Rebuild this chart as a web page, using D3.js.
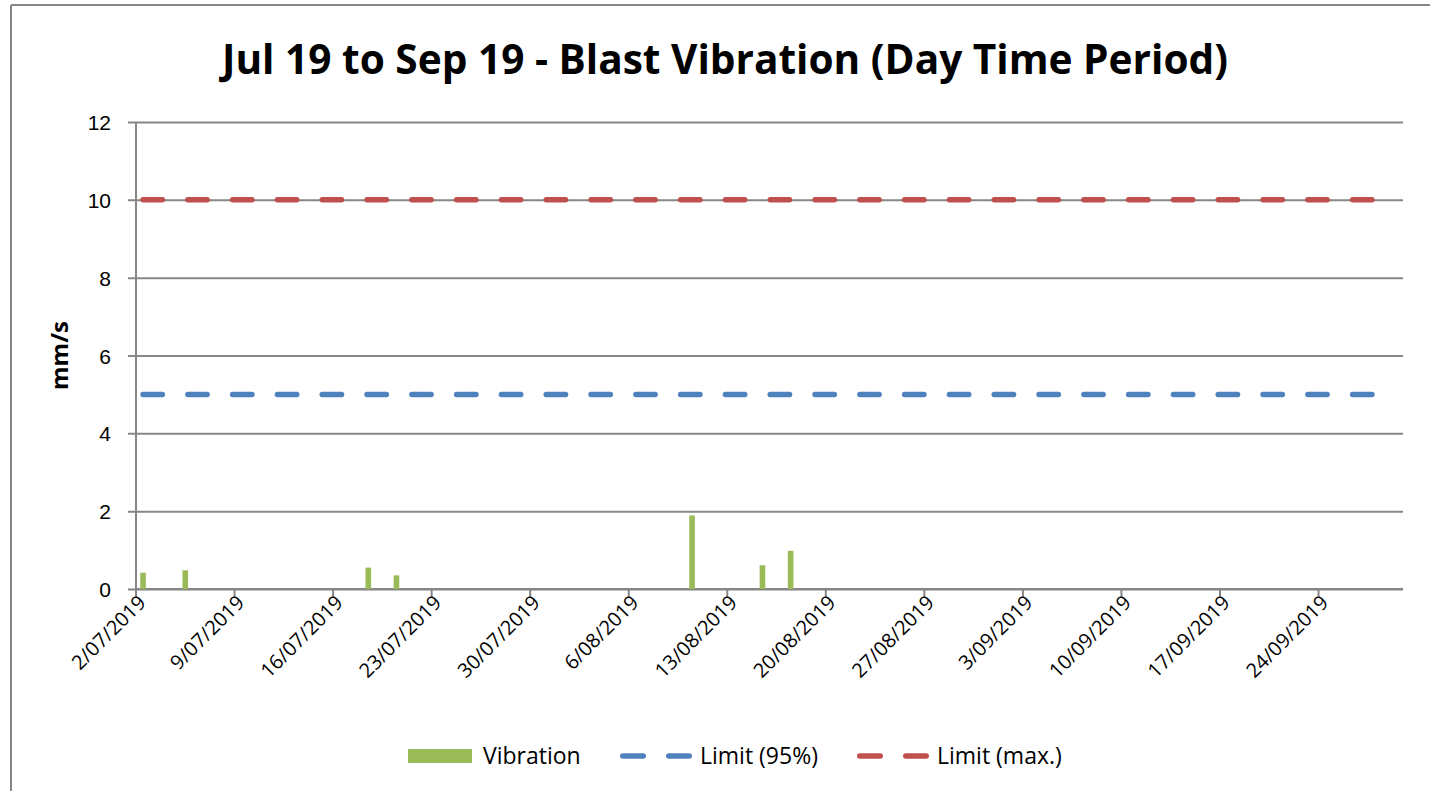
<!DOCTYPE html>
<html>
<head>
<meta charset="utf-8">
<script src="https://cdn.jsdelivr.net/npm/d3@7"></script>
<style>
  body { margin: 0; background: #fff; }
  svg { display: block; font-family: "Open Sans", "Noto Sans", sans-serif; }
</style>
</head>
<body>
<svg id="chart" width="1430" height="791"></svg>
<script>
// data
const firstDay = "2019-07-02";
const lastDay = "2019-09-29";
const blastDates = ["2019-07-02", "2019-07-05", "2019-07-18", "2019-07-20", "2019-08-10", "2019-08-15", "2019-08-17"];
const blastValues = [0.42, 0.48, 0.55, 0.35, 1.89, 0.61, 0.98];
const limit95 = 5;
const limitMax = 10;
const yTicks = [0, 2, 4, 6, 8, 10, 12];
const legendLabels = ["Vibration", "Limit (95%)", "Limit (max.)"];

const svg = d3.select("#chart");
const parse = d3.timeParse("%Y-%m-%d");
const fmt = d3.timeFormat("%-d/%m/%Y");

// daily category axis
const days = d3.timeDay.range(parse(firstDay), d3.timeDay.offset(parse(lastDay), 1));
const dayKeys = days.map(d => fmt(d));

const plot = { left: 136, right: 1403, top: 122, bottom: 589 };

const x = d3.scaleBand()
    .domain(dayKeys)
    .range([plot.left, plot.right]);

const y = d3.scaleLinear()
    .domain([0, 12])
    .range([plot.bottom, plot.top]);

const gridColor = "#868686";
const green = "#9BBB59", blue = "#4F81BD", red = "#C0504D";

//outer chart border (only top and left visible)
svg.append("line").attr("x1", 11).attr("x2", 1430).attr("y1", 5).attr("y2", 5)
    .attr("stroke", gridColor).attr("stroke-width", 2);
svg.append("line").attr("x1", 11).attr("x2", 11).attr("y1", 5).attr("y2", 791)
    .attr("stroke", gridColor).attr("stroke-width", 2);

//title
svg.append("text")
    .attr("x", 725)
    .attr("y", 74)
    .attr("text-anchor", "middle")
    .attr("textLength", 1006)
    .attr("lengthAdjust", "spacingAndGlyphs")
    .style("font-size", "41px")
    .style("font-weight", "bold")
    .text("Jul 19 to Sep 19 - Blast Vibration (Day Time Period)");

//gridlines + y axis
const yAxis = d3.axisLeft(y)
    .tickValues(yTicks)
    .tickSize(plot.right - plot.left + 8)
    .tickFormat(d3.format("d"));

const yg = svg.append("g")
    .attr("transform", `translate(${plot.right},0)`)
    .call(yAxis);
yg.select(".domain").remove();
yg.selectAll(".tick line").attr("stroke", gridColor).attr("stroke-width", 2);
yg.selectAll(".tick text")
    .attr("x", plot.left - 25 - plot.right)
    .attr("dy", "0.36em")
    .style("font-size", "21px")
    .attr("fill", "#000");

svg.append("line")
    .attr("x1", plot.left).attr("x2", plot.left)
    .attr("y1", plot.top).attr("y2", plot.bottom)
    .attr("stroke", gridColor).attr("stroke-width", 2);

//y label
svg.append("text")
    .attr("transform", `translate(68, ${(plot.top + plot.bottom) / 2}) rotate(-90)`)
    .attr("text-anchor", "middle")
    .style("font-size", "24px")
    .style("font-weight", "bold")
    .text("mm/s");

//x axis with a tick every 7 days at the category's left edge
const tickKeys = dayKeys.filter((d, i) => i % 7 === 0);
const xg = svg.append("g");
xg.append("line")
    .attr("x1", plot.left).attr("x2", plot.right)
    .attr("y1", plot.bottom).attr("y2", plot.bottom)
    .attr("stroke", gridColor).attr("stroke-width", 2);
xg.selectAll(".xtick")
    .data(tickKeys)
    .enter()
    .append("line")
    .attr("x1", d => x(d)).attr("x2", d => x(d))
    .attr("y1", plot.bottom).attr("y2", plot.bottom + 8)
    .attr("stroke", gridColor).attr("stroke-width", 2);
xg.selectAll(".xlabel")
    .data(tickKeys)
    .enter()
    .append("text")
    .attr("transform", d => `translate(${x(d) + 11}, ${plot.bottom + 15}) rotate(-45)`)
    .attr("text-anchor", "end")
    .style("font-size", "20px")
    .text(d => d);

//vibration bars
const barW = x.bandwidth() / 2.5;
svg.selectAll(".bar")
    .data(blastDates.map((d, i) => ({ key: fmt(parse(d)), v: blastValues[i] })))
    .enter()
    .append("rect")
    .attr("x", d => x(d.key) + x.bandwidth() / 2 - barW / 2)
    .attr("y", d => y(d.v))
    .attr("width", barW)
    .attr("height", d => y(0) - y(d.v))
    .attr("fill", green);

//limit lines
const line = d3.line()
    .x(d => x(d.key) + x.bandwidth() / 2)
    .y(d => y(d.v));

[[limit95, blue], [limitMax, red]].forEach(([val, col]) => {
    svg.append("path")
        .datum(dayKeys.map(k => ({ key: k, v: val })))
        .attr("d", line)
        .attr("fill", "none")
        .attr("stroke", col)
        .attr("stroke-width", 5.5)
        .attr("stroke-linecap", "round")
        .attr("stroke-dasharray", "19.3,25.5");
});

//legend
const leg = svg.append("g").style("font-size", "23px");
leg.append("rect").attr("x", 408).attr("y", 749).attr("width", 64).attr("height", 14).attr("fill", green);
leg.append("text").attr("x", 483).attr("y", 764).text(legendLabels[0]);

[[620, blue, legendLabels[1]], [857, red, legendLabels[2]]].forEach(([lx, col, label]) => {
    leg.append("line")
        .attr("x1", lx + 2.75).attr("x2", lx + 72 - 2.75)
        .attr("y1", 756).attr("y2", 756)
        .attr("stroke", col)
        .attr("stroke-width", 5.5)
        .attr("stroke-linecap", "round")
        .attr("stroke-dasharray", "20.5,25.5");
    leg.append("text").attr("x", lx + 80).attr("y", 764).text(label);
});
</script>
</body>
</html>
